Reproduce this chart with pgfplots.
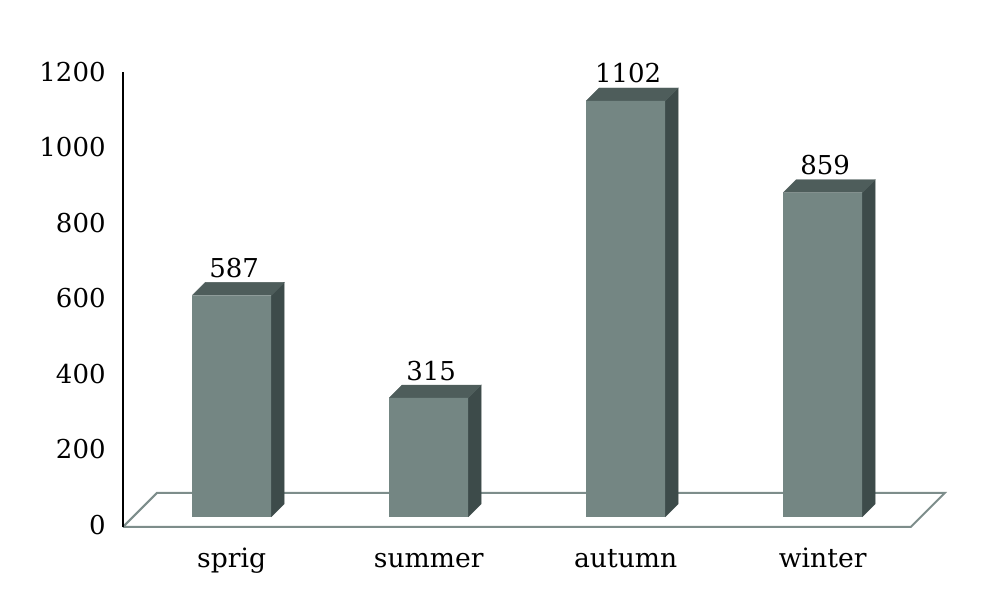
\documentclass[border=0pt]{standalone}
\usepackage{fontspec}
\setmainfont{DejaVu Serif}
\usepackage{pgfplots}
\pgfplotsset{compat=1.18}

\definecolor{frontc}{RGB}{116,134,131}
\definecolor{sidec}{RGB}{61,75,74}
\definecolor{topc}{RGB}{78,93,91}
\definecolor{floorc}{RGB}{125,141,139}

\begin{document}
\begin{tikzpicture}
\begin{axis}[
    scale only axis,
    width=411pt, height=231.5pt,
    xmin=-0.5518, xmax=3.6198,
    ymin=-26.49, ymax=1200,
    clip=false,
    axis line style={draw=none},
    major tick length=0pt,
    xtick pos=bottom, ytick pos=left,
    xtick={0,1,2,3},
    xticklabels={sprig,summer,autumn,winter},
    ytick={0,200,...,1200},
    /pgf/number format/assume math mode=true,
    /pgf/number format/1000 sep={},
    yticklabel style={font=\fontsize{13}{15}\selectfont, anchor=east, inner sep=0pt, xshift=-8.5pt, yshift=-4pt},
    xticklabel style={font=\fontsize{13.3}{15}\selectfont, anchor=base, inner sep=0pt, yshift=-20.5pt},
]
% picture extent (1000 x 601 px)
\addplot[draw=none, forget plot] coordinates {(-1.17614,-222.52) (3.9,1369.54)};

% floor
\addplot[draw=floorc, line width=1pt, line join=miter, forget plot] coordinates {
    (-0.5518,-26.49) (3.4472,-26.49) (3.6198,63.58) (-0.3792,63.58) (-0.5518,-26.49)};

% left axis line
\addplot[black, line width=1.3pt, forget plot] coordinates {(-0.5518,-26.49) (-0.5518,1178.81)};

% side faces
\addplot[fill=sidec, draw=sidec, line width=0.2pt, forget plot] coordinates {(0.2005,0) (0.2665,34.4) (0.2665,621.4) (0.2005,587)};
\addplot[fill=sidec, draw=sidec, line width=0.2pt, forget plot] coordinates {(1.2005,0) (1.2665,34.4) (1.2665,349.4) (1.2005,315)};
\addplot[fill=sidec, draw=sidec, line width=0.2pt, forget plot] coordinates {(2.2005,0) (2.2665,34.4) (2.2665,1136.4) (2.2005,1102)};
\addplot[fill=sidec, draw=sidec, line width=0.2pt, forget plot] coordinates {(3.2005,0) (3.2665,34.4) (3.2665,893.4) (3.2005,859)};

% top faces
\addplot[fill=topc, draw=topc, line width=0.2pt, forget plot] coordinates {(-0.2005,587) (-0.1345,621.4) (0.2665,621.4) (0.2005,587)};
\addplot[fill=topc, draw=topc, line width=0.2pt, forget plot] coordinates {(0.7995,315) (0.8655,349.4) (1.2665,349.4) (1.2005,315)};
\addplot[fill=topc, draw=topc, line width=0.2pt, forget plot] coordinates {(1.7995,1102) (1.8655,1136.4) (2.2665,1136.4) (2.2005,1102)};
\addplot[fill=topc, draw=topc, line width=0.2pt, forget plot] coordinates {(2.7995,859) (2.8655,893.4) (3.2665,893.4) (3.2005,859)};

% front faces
\addplot[ybar, bar width=0.401, fill=frontc, draw=none,
    nodes near coords,
    every node near coord/.append style={font=\fontsize{13}{15}\selectfont, anchor=base, inner sep=0pt, yshift=9pt, xshift=1.2pt, black}]
    coordinates {(0,587) (1,315) (2,1102) (3,859)};
\end{axis}
\end{tikzpicture}
\end{document}
